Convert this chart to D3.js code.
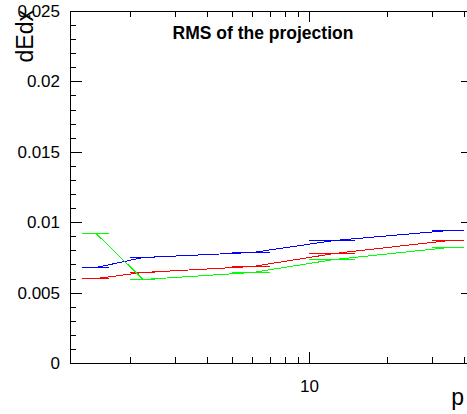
<!DOCTYPE html>
<html>
<head>
<meta charset="utf-8">
<script src="https://cdn.jsdelivr.net/npm/d3@7"></script>
<style>
  body { margin: 0; background: #fff; }
  svg { display: block; font-family: "Liberation Sans", Arial, sans-serif; }
</style>
</head>
<body>
<div id="chart"></div>
<script>
// p bins (x error bars) and bin centres
const pCenter = [1.475, 2.25, 6, 12.5, 35];
const pLow = [1.3, 2, 5, 10, 30];
const pHigh = [1.65, 2.5, 7, 15, 40];

// RMS values per series
const blueRms = [0.0068, 0.00751, 0.00787, 0.00872, 0.00943];
const redRms = [0.00606, 0.00645, 0.0069, 0.0078, 0.00872];
const greenRms = [0.00922, 0.00597, 0.00647, 0.00737, 0.00827];

const yTicks = [0, 0.005, 0.01, 0.015, 0.02, 0.025];
const xLabelTicks = [10];

const width = 467, height = 414;
let margin = { top: 11, left: 70, right: -6, bottom: 51 };

let svg = d3.select('#chart').append('svg')
    .attr('width', width)
    .attr('height', height);

let x = d3.scaleLog()
    .domain([1.167, 43.4])
    .range([margin.left, width - margin.right]);

let y = d3.scaleLinear()
    .domain([0, 0.025])
    .range([height - margin.bottom, margin.top]);

const x0 = margin.left, x1 = width - margin.right;
const y0 = height - margin.bottom, y1 = margin.top;

// frame
svg.append('rect')
    .attr('x', x0 + 0.5).attr('y', y1 + 0.5)
    .attr('width', x1 - x0).attr('height', y0 - y1)
    .attr('fill', 'none').attr('stroke', '#000');

// x ticks (log, minor on 2..9, 20..40)
let xMinor = [2, 3, 4, 5, 6, 7, 8, 9, 20, 30, 40];
let gx = svg.append('g').attr('stroke', '#000').attr('shape-rendering', 'crispEdges');
xMinor.forEach(v => {
    let px = Math.round(x(v)) + 0.5;
    gx.append('line').attr('x1', px).attr('x2', px).attr('y1', y0).attr('y2', y0 - 6);
    gx.append('line').attr('x1', px).attr('x2', px).attr('y1', y1).attr('y2', y1 + 6);
});
xLabelTicks.forEach(v => {
    let px = Math.round(x(v)) + 0.5;
    gx.append('line').attr('x1', px).attr('x2', px).attr('y1', y0).attr('y2', y0 - 11);
    gx.append('line').attr('x1', px).attr('x2', px).attr('y1', y1).attr('y2', y1 + 11);
});
svg.selectAll('.xlab')
    .data(xLabelTicks).enter()
    .append('text')
    .attr('x', d => x(d))
    .attr('y', 392)
    .attr('text-anchor', 'middle')
    .attr('font-size', 17)
    .text(d => d);

// y ticks
let gy = svg.append('g').attr('stroke', '#000').attr('shape-rendering', 'crispEdges');
d3.range(0, 26).forEach(i => {
    let v = i * 0.001;
    let len = i % 5 === 0 ? 12 : 6;
    let py = Math.round(y(v)) + 0.5;
    gy.append('line').attr('x1', x0).attr('x2', x0 + len).attr('y1', py).attr('y2', py);
    gy.append('line').attr('x1', x1).attr('x2', x1 - len).attr('y1', py).attr('y2', py);
});
svg.selectAll('.ylab')
    .data(yTicks).enter()
    .append('text')
    .attr('x', 60)
    .attr('y', d => y(d) + 6)
    .attr('text-anchor', 'end')
    .attr('font-size', 17)
    .text(d => d3.format('~g')(d));

// axis titles
svg.append('text')
    .attr('transform', 'translate(33,10) rotate(-90)')
    .attr('text-anchor', 'end')
    .attr('font-size', 23)
    .text('dEdx');
svg.append('text')
    .attr('x', 464).attr('y', 405)
    .attr('text-anchor', 'end')
    .attr('font-size', 23)
    .text('p');

// title
svg.append('text')
    .attr('x', 263).attr('y', 39)
    .attr('text-anchor', 'middle')
    .attr('font-size', 17.5)
    .attr('font-weight', 'bold')
    .text('RMS of the projection');

// series
let series = [
    { color: '#0000ff', values: blueRms },
    { color: '#ff0000', values: redRms },
    { color: '#00ff00', values: greenRms }
];

let plot = svg.append('g').attr('shape-rendering', 'crispEdges');
series.forEach(s => {
    let pts = pCenter.map((p, i) => ({ p: p, lo: pLow[i], hi: pHigh[i], v: s.values[i] }));
    plot.append('path')
        .datum(pts)
        .attr('fill', 'none')
        .attr('stroke', s.color)
        .attr('stroke-width', 1)
        .attr('d', d3.line().x(d => x(d.p)).y(d => Math.round(y(d.v)) + 0.5));
    plot.selectAll(null)
        .data(pts).enter()
        .append('line')
        .attr('stroke', s.color)
        .attr('x1', d => x(d.lo))
        .attr('x2', d => x(d.hi))
        .attr('y1', d => Math.round(y(d.v)) + 0.5)
        .attr('y2', d => Math.round(y(d.v)) + 0.5);
});
</script>
</body>
</html>
